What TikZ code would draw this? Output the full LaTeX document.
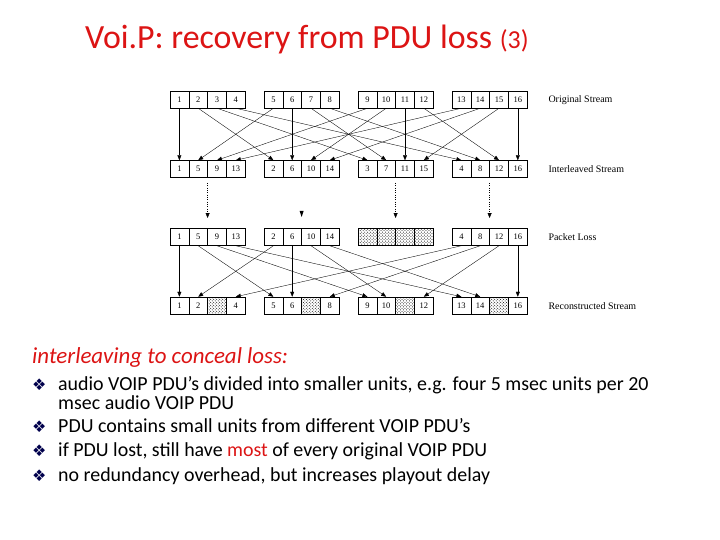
\documentclass[tikz,border=0pt]{standalone}
\usepackage{fontspec}
\setmainfont{Carlito}
\newfontfamily\lserif{Liberation Serif}
\newfontfamily\djv{DejaVu Sans}
\usetikzlibrary{arrows.meta,patterns}
\definecolor{tred}{RGB}{220,20,20}
\begin{document}
\begin{tikzpicture}[x=1bp,y=-1bp,
  cell/.style={draw,line width=0.5pt,minimum width=18.8bp,minimum height=17bp,inner sep=0pt,font=\lserif\fontsize{8.5}{8.5}\selectfont},
  lost/.style={cell,pattern=crosshatch dots,pattern color=black},
  arr/.style={line width=0.35pt,-{Triangle[width=4pt,length=5pt]}},
  lab/.style={anchor=west,font=\lserif\fontsize{10}{10}\selectfont},
  bul/.style={anchor=base west,font=\fontsize{20}{20}\selectfont,inner sep=0pt}]
\useasboundingbox (0,0) rectangle (720,540);
% title
\node[anchor=base west,text=tred,inner sep=0pt] (title) at (85,49) {\fontsize{34}{34}\selectfont Voi.P: recovery from PDU loss \fontsize{26}{26}\selectfont(3)};
% rows
\foreach \k in {1,...,16}{
  \pgfmathtruncatemacro\g{int((\k-1)/4)}
  \pgfmathtruncatemacro\p{mod(\k-1,4)}
  \node[cell] (a\k) at ({179.4+94*\g+18.8*\p},99.5) {\k};
  \node[cell] (b\k) at ({179.4+94*\p+18.8*\g},169) {\k};
  \ifnum\p=2
    \node[lost] (c\k) at ({179.4+94*\p+18.8*\g},237) {};
    \node[lost] (d\k) at ({179.4+94*\g+18.8*\p},305.5) {};
  \else
    \node[cell] (c\k) at ({179.4+94*\p+18.8*\g},237) {\k};
    \node[cell] (d\k) at ({179.4+94*\g+18.8*\p},305.5) {\k};
  \fi
  \draw[arr] (a\k.south) -- (b\k.north);
  \ifnum\p=2\else\draw[arr] (c\k.south) -- (d\k.north);\fi
}
% dotted transfer
\foreach \g in {0,2,3}{
  \coordinate (s\g) at ({207.6+94*\g},183);
  \coordinate (e\g) at ({207.6+94*\g},218);
  \draw[arr,dotted] (s\g) -- (e\g);
}
\coordinate (e1) at (301.6,217);
\fill (299.6,211) -- (303.6,211) -- (e1) -- cycle;
% labels
\node[lab] (l1) at (545,100) {Original Stream};
\node[lab] (l2) at (545,169) {Interleaved Stream};
\node[lab] (l3) at (545,237) {Packet Loss};
\node[lab] (l4) at (545,306) {Reconstructed Stream};
% text
\node[anchor=base west,inner sep=0pt,text=tred,font=\itshape\fontsize{23}{23}\selectfont] (it) at (32,363) {interleaving to conceal loss:};
\foreach \y/\n in {390/b1,432/b3,456/b4,481/b5}{
  \node[bul,text=black!70!blue] (\n) at (32,\y) {\djv\fontsize{16}{16}\selectfont ❖};
}
\node[bul] (t1) at (58,390) {audio VOIP PDU’s divided into smaller units, e.g. four 5 msec units per 20};
\node[bul] (t2) at (58,409) {msec audio VOIP PDU};
\node[bul] (t3) at (58,432) {PDU contains small units from different VOIP PDU’s};
\node[bul] (t4) at (58,456) {if PDU lost, still have \textcolor{tred}{most} of every original VOIP PDU};
\node[bul] (t5) at (58,481) {no redundancy overhead, but increases playout delay};
\end{tikzpicture}
\end{document}
